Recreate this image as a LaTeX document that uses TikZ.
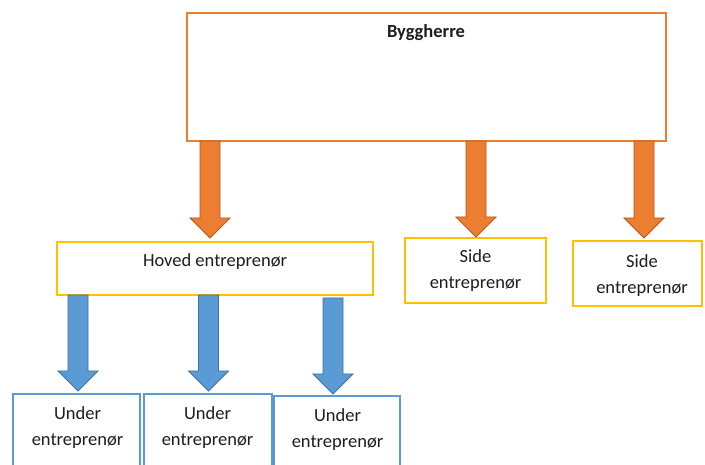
\documentclass[tikz,border=0pt]{standalone}
\usepackage{fontspec}
\setmainfont{Carlito}
\usetikzlibrary{calc}
\definecolor{boxorange}{RGB}{237,125,49}
\definecolor{arrorange}{RGB}{237,125,49}
\definecolor{arrorangedk}{RGB}{174,90,33}
\definecolor{boxyellow}{RGB}{255,192,0}
\definecolor{boxblue}{RGB}{91,155,213}
\definecolor{arrblue}{RGB}{91,155,213}
\definecolor{arrbluedk}{RGB}{65,113,156}
\definecolor{txt}{RGB}{30,30,30}
\newcommand\fatarrow[3]{\draw[#1] let \p1=(#2), \p2=(#3) in
  (\x1-10pt,\y1) -- (\x1+10pt,\y1) -- (\x1+10pt,\y2+20pt) -- (\x1+20pt,\y2+20pt)
  -- (\x1,\y2) -- (\x1-20pt,\y2+20pt) -- (\x1-10pt,\y2+20pt) -- cycle;}
\begin{document}
\begin{tikzpicture}[x=1pt,y=-1pt,
  font=\fontsize{18.5}{26}\selectfont,
  box/.style={draw, line width=1.6pt, inner sep=0pt, fill=white},
  obox/.style={box, draw=boxorange},
  ybox/.style={box, draw=boxyellow},
  bbox/.style={box, draw=boxblue},
  lbl/.style={text=txt, align=center, inner sep=0pt},
  oarrow/.style={fill=arrorange, draw=arrorangedk, line width=0.8pt},
  barrow/.style={fill=arrblue, draw=arrbluedk, line width=0.8pt}]
\useasboundingbox (0,0) rectangle (705,465);
\clip (0,0) rectangle (705,465);
\fill[white] (0,0) rectangle (705,465);
% boxes
\node[obox, minimum width=479pt, minimum height=128pt] (bygg) at (426.5,77) {};
\node[lbl, anchor=base, font=\fontsize{18.5}{26}\selectfont\bfseries] (byggt) at (426,38) {Byggherre};
\node[ybox, minimum width=316pt, minimum height=53pt] (hoved) at (215,268.5) {};
\node[lbl, anchor=base] (hovedt) at (215,267) {Hoved entreprenør};
\node[ybox, minimum width=141pt, minimum height=65pt, lbl] (side1) at (475.5,270.5) {Side\\entreprenør};
\node[ybox, minimum width=129pt, minimum height=65pt] (side2) at (637.5,273.5) {};
\node[lbl] (side2t) at (642,275.5) {Side\\entreprenør};
\node[bbox, minimum width=127pt, minimum height=100pt] (under1) at (76.5,444) {};
\node[bbox, minimum width=128pt, minimum height=100pt] (under2) at (208,444) {};
\node[bbox, minimum width=126pt, minimum height=100pt] (under3) at (337,446) {};
\node[lbl] (under1t) at (77.5,427.5) {Under\\entreprenør};
\node[lbl] (under2t) at (207.5,427.5) {Under\\entreprenør};
\node[lbl] (under3t) at (337.5,429.5) {Under\\entreprenør};
% arrow end points
\coordinate (o1s) at (210,141);  \coordinate (o1e) at (210,238);
\coordinate (o2s) at (476,141);  \coordinate (o2e) at (476,237);
\coordinate (o3s) at (644,141);  \coordinate (o3e) at (644,238);
\coordinate (b1s) at (78,295);   \coordinate (b1e) at (78,391);
\coordinate (b2s) at (208.5,295); \coordinate (b2e) at (208.5,391);
\coordinate (b3s) at (333,298);  \coordinate (b3e) at (333,394);
\fatarrow{oarrow}{o1s}{o1e}
\fatarrow{oarrow}{o2s}{o2e}
\fatarrow{oarrow}{o3s}{o3e}
\fatarrow{barrow}{b1s}{b1e}
\fatarrow{barrow}{b2s}{b2e}
\fatarrow{barrow}{b3s}{b3e}
\end{tikzpicture}
\end{document}
